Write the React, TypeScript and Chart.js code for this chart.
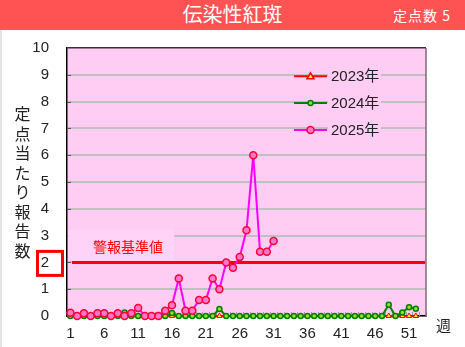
import { useEffect, useRef } from 'react';
import { Chart, registerables } from 'chart.js';

Chart.register(...registerables);

const weekLabels = ['1','2','3','4','5','6','7','8','9','10','11','12','13','14','15','16','17','18','19','20','21','22','23','24','25','26','27','28','29','30','31','32','33','34','35','36','37','38','39','40','41','42','43','44','45','46','47','48','49','50','51','52','53'];
const shownTicks = ['1','6','11','16','21','26','31','36','41','46','51'];

const series2023 = [0,0,0,0,0,0,0,0,0,0,0,0,0,0,0,0,0,0,0,0,0,0,0,0,0,0,0,0,0,0,0,0,0,0,0,0,0,0,0,0,0,0,0,0,0,0,0,0,0,0,0,0];
const series2024 = [0,0,0,0,0,0,0,0,0.13,0,0,0,0,0,0,0.11,0,0,0,0,0,0,0.26,0,0,0,0,0,0,0,0,0,0,0,0,0,0,0,0,0,0,0,0,0,0,0,0,0.42,0,0.13,0.33,0.27];
const series2025 = [0.12,0,0.1,0,0.1,0.1,0,0.1,0,0.1,0.3,0,0,0,0.2,0.4,1.4,0.2,0.2,0.6,0.6,1.4,1.0,2.0,1.8,2.2,3.2,6.0,2.4,2.4,2.8];
const seriesNames = ['2023年', '2024年', '2025年'];
const yTitleChars = ['定','点','当','た','り','報','告','数'];
const alertValue = 2;
const alertLabel = '警報基準値';

const PLOT_BG = '#ffccf4';
const JP = '"Noto Sans CJK JP", sans-serif';
const NUM = '"Liberation Sans", Arial, "Noto Sans CJK JP", sans-serif';

const decorPlugin = {
  id: 'decor',
  beforeDraw(chart: any) {
    const { ctx, chartArea: a } = chart;
    ctx.save();
    ctx.fillStyle = PLOT_BG;
    ctx.fillRect(a.left, a.top, a.right - a.left, a.bottom - a.top);
    ctx.restore();
  },
  beforeDatasetsDraw(chart: any) {
    const { ctx, chartArea: a } = chart;
    const y = chart.scales.y;
    const x = chart.scales.x;
    ctx.save();
    ctx.strokeStyle = '#555';
    ctx.lineWidth = 1;
    for (let v = 1; v < 10; v++) {
      const py = Math.round(y.getPixelForValue(v)) + 0.5;
      ctx.beginPath();
      ctx.moveTo(a.left, py);
      ctx.lineTo(a.left + 4, py);
      ctx.stroke();
    }
    ctx.strokeStyle = '#999';
    for (let i = 0; i <= weekLabels.length; i++) {
      const px = Math.round(x.left + (x.right - x.left) * i / weekLabels.length) + 0.5;
      ctx.beginPath();
      ctx.moveTo(px, a.bottom);
      ctx.lineTo(px, a.bottom - 4);
      ctx.stroke();
    }
    const y3 = y.getPixelForValue(alertValue + 1);
    const y2 = y.getPixelForValue(alertValue);
    ctx.fillStyle = '#ffd2f7';
    ctx.fillRect(a.left + 1, y3 - 6, 173 - a.left, y2 - y3 + 4);
    ctx.fillStyle = '#ff0000';
    ctx.font = '14px ' + JP;
    ctx.textAlign = 'left';
    ctx.textBaseline = 'middle';
    ctx.fillText(alertLabel, 93, y2 - 15.5);
    ctx.strokeStyle = '#ff0000';
    ctx.lineWidth = 3;
    ctx.beginPath();
    ctx.moveTo(a.left + 5, y2);
    ctx.lineTo(a.right - 1, y2);
    ctx.stroke();
    ctx.restore();
  },
  afterDraw(chart: any) {
    const { ctx, chartArea: a } = chart;
    const y = chart.scales.y;
    ctx.save();
    ctx.strokeStyle = '#806878';
    ctx.lineWidth = 1.5;
    ctx.beginPath();
    ctx.moveTo(a.right, a.top);
    ctx.lineTo(a.right, a.bottom);
    ctx.stroke();
    const y2 = y.getPixelForValue(alertValue);
    ctx.strokeStyle = '#ff0000';
    ctx.lineWidth = 3;
    ctx.strokeRect(37.5, y2 - 11, 25, 24);
    const styles = [
      { line: '#ff0000', border: '#ff0000', fill: '#ffff00', tri: true, r: 3 },
      { line: '#008000', border: '#008000', fill: '#99dd33', tri: false, r: 2.5 },
      { line: '#ff00ff', border: '#ff0033', fill: '#ff77cc', tri: false, r: 3.5 },
    ];
    for (let i = 0; i < 3; i++) {
      const ly = y.getPixelForValue(9 - i) + 1.5;
      const s = styles[i];
      ctx.strokeStyle = s.line;
      ctx.lineWidth = 2;
      ctx.beginPath();
      ctx.moveTo(294, ly);
      ctx.lineTo(327, ly);
      ctx.stroke();
      ctx.fillStyle = s.fill;
      ctx.strokeStyle = s.border;
      ctx.lineWidth = 1.5;
      ctx.beginPath();
      if (s.tri) {
        ctx.moveTo(310.5, ly - 3.5);
        ctx.lineTo(314, ly + 2.5);
        ctx.lineTo(307, ly + 2.5);
        ctx.closePath();
      } else {
        ctx.arc(310.5, ly, s.r, 0, Math.PI * 2);
      }
      ctx.fill();
      ctx.stroke();
      ctx.fillStyle = PLOT_BG;
      ctx.fillRect(328, ly - 8, 53, 16);
      ctx.fillStyle = '#222';
      ctx.font = '15px ' + NUM;
      ctx.textAlign = 'left';
      ctx.textBaseline = 'middle';
      ctx.fillText(seriesNames[i], 331, ly + 0.5);
    }
    ctx.fillStyle = '#222';
    ctx.font = '16px ' + JP;
    ctx.textAlign = 'center';
    ctx.textBaseline = 'middle';
    yTitleChars.forEach((c, i) => ctx.fillText(c, 22.5, 114 + i * 19.5));
    ctx.font = '15px ' + JP;
    ctx.fillText('週', 443.5, 325);
    ctx.restore();
  },
};

export default function App() {
  const ref = useRef<HTMLCanvasElement>(null);
  useEffect(() => {
    document.body.style.margin = '0';
    const chart = new Chart(ref.current!, {
      type: 'line',
      data: {
        labels: weekLabels,
        datasets: [
          {
            label: seriesNames[0],
            data: series2023,
            borderColor: '#ff0000',
            borderWidth: 2,
            pointStyle: 'triangle',
            pointRadius: 3,
            pointBorderColor: '#ff0000',
            pointBackgroundColor: '#ffff00',
            pointBorderWidth: 1,
            order: 2,
            clip: false,
          },
          {
            label: seriesNames[1],
            data: series2024,
            borderColor: '#008000',
            borderWidth: 2,
            pointRadius: 2.5,
            pointBorderColor: '#008000',
            pointBackgroundColor: '#99dd33',
            pointBorderWidth: 1.5,
            order: 1,
            clip: false,
          },
          {
            label: seriesNames[2],
            data: series2025,
            borderColor: '#ff00ff',
            borderWidth: 2,
            pointRadius: 3.5,
            pointBorderColor: '#ff0033',
            pointBackgroundColor: '#ff77cc',
            pointBorderWidth: 1.5,
            order: 0,
            clip: false,
          },
        ],
      },
      options: {
        animation: false,
        responsive: false,
        devicePixelRatio: 1,
        layout: { padding: { top: 48, right: 39, left: 0, bottom: 0 } },
        plugins: { legend: { display: false }, tooltip: { enabled: false } },
        scales: {
          x: {
            type: 'category',
            offset: true,
            grid: { display: false, drawTicks: false },
            border: { display: true, color: '#000', width: 1.5 },
            ticks: {
              autoSkip: false,
              maxRotation: 0,
              padding: 9,
              color: '#222',
              font: { size: 15, family: NUM },
              callback: (_v: any, i: number) => (shownTicks.includes(weekLabels[i]) ? weekLabels[i] : ''),
            },
            afterFit: (s: any) => { s.height = 31; },
          },
          y: {
            min: 0,
            max: 10,
            grid: {
              color: (c: any) => (c.tick && c.tick.value === 10 ? '#333' : '#c0c0c0'),
              lineWidth: (c: any) => (c.tick && c.tick.value === 10 ? 1.5 : 2),
              drawTicks: false,
            },
            border: { display: true, color: '#000', width: 1.5 },
            ticks: {
              stepSize: 1,
              padding: 18,
              color: '#222',
              font: { size: 15, family: NUM },
            },
            afterFit: (s: any) => { s.width = 67; },
          },
        },
      },
      plugins: [decorPlugin],
    });
    return () => chart.destroy();
  }, []);
  return (
    <div style={{ position: 'fixed', left: 0, top: 0, width: 465, height: 347, background: '#fff', overflow: 'hidden' }}>
      <canvas ref={ref} width={465} height={347} style={{ position: 'absolute', left: 0, top: 0 }} />
      <div style={{ position: 'absolute', left: 0, top: 30, width: 2, height: 317, background: '#e4e4e4' }} />
      <div style={{ position: 'absolute', left: 0, top: 0, width: 465, height: 30, background: '#ff5252' }}>
        <div style={{ position: 'absolute', left: 0, width: 465, top: 0, textAlign: 'center', color: '#fff', fontFamily: JP, fontSize: 20, lineHeight: '28px' }}>伝染性紅斑</div>
        <div style={{ position: 'absolute', left: 393, top: 0, color: '#fff', fontFamily: JP, fontSize: 14, lineHeight: '30px', letterSpacing: 1 }}>定点数 5</div>
      </div>
    </div>
  );
}
